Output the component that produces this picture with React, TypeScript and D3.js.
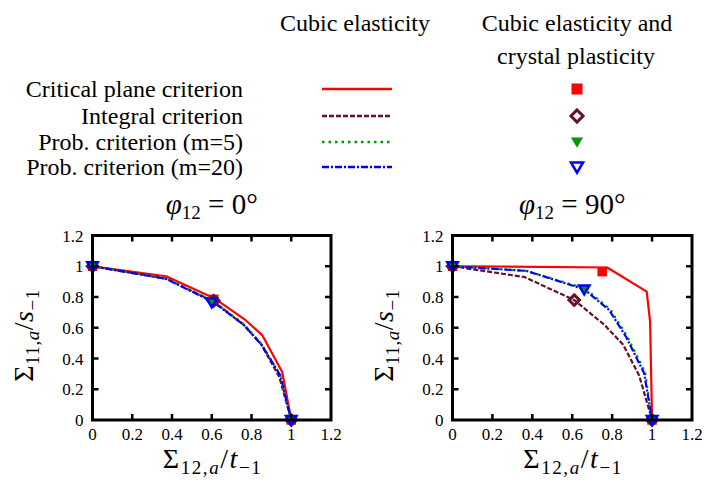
import React from "react";
import * as d3 from "d3";

// ---------- data ----------
const ticks = [0, 0.2, 0.4, 0.6, 0.8, 1, 1.2];
const tickLabels = ["0", "0.2", "0.4", "0.6", "0.8", "1", "1.2"];

const seriesNames = [
  "Critical plane criterion",
  "Integral criterion",
  "Prob. criterion (m=5)",
  "Prob. criterion (m=20)",
];
const headerLeft = ["Cubic elasticity"];
const headerRight = ["Cubic elasticity and", "crystal plasticity"];

// phi12 = 0 deg : cubic elasticity curves
const p0CritX = [0, 0.37, 0.615, 0.765, 0.855, 0.955, 1];
const p0CritY = [1, 0.935, 0.79, 0.655, 0.55, 0.31, 0];
const p0IntX = [0, 0.37, 0.61, 0.76, 0.85, 0.94, 1];
const p0IntY = [1, 0.92, 0.77, 0.62, 0.49, 0.28, 0];
const p0P5X = [0, 0.37, 0.61, 0.76, 0.85, 0.945, 1];
const p0P5Y = [1, 0.92, 0.77, 0.625, 0.495, 0.29, 0];
const p0P20X = [0, 0.37, 0.61, 0.76, 0.85, 0.945, 1];
const p0P20Y = [1, 0.918, 0.765, 0.62, 0.49, 0.29, 0];
// phi12 = 0 deg : crystal plasticity points
const p0MarkCritX = [0, 0.61, 1];
const p0MarkCritY = [1, 0.785, 0];
const p0MarkIntX = [0, 0.61, 1];
const p0MarkIntY = [1, 0.775, 0];
const p0MarkP5X = [0, 0.605, 1];
const p0MarkP5Y = [1, 0.77, 0];
const p0MarkP20X = [0, 0.6, 1];
const p0MarkP20Y = [1, 0.765, 0];

// phi12 = 90 deg : cubic elasticity curves
const p90CritX = [0, 0.775, 0.973, 0.99, 1];
const p90CritY = [1, 0.992, 0.835, 0.64, 0];
const p90IntX = [0, 0.36, 0.61, 0.76, 0.855, 0.935, 1];
const p90IntY = [1, 0.93, 0.78, 0.62, 0.49, 0.29, 0];
const p90P5X = [0, 0.37, 0.665, 0.79, 0.875, 0.965, 1];
const p90P5Y = [1, 0.97, 0.855, 0.72, 0.545, 0.31, 0];
const p90P20X = [0, 0.37, 0.66, 0.785, 0.87, 0.96, 1];
const p90P20Y = [1, 0.97, 0.85, 0.715, 0.54, 0.305, 0];
// phi12 = 90 deg : crystal plasticity points
const p90MarkCritX = [0, 0.75, 1];
const p90MarkCritY = [1, 0.965, 0];
const p90MarkIntX = [0, 0.61, 1];
const p90MarkIntY = [1, 0.78, 0];
const p90MarkP5X = [0, 0.66, 1];
const p90MarkP5Y = [1, 0.85, 0];
const p90MarkP20X = [0, 0.66, 1];
const p90MarkP20Y = [1, 0.85, 0];

// ---------- styles ----------
const colors = ["#ff0000", "#661030", "#009a00", "#0000ff"];
const dashes = ["none", "5,2", "2.5,4", "7,2,2,2"];
const FS = { fontFamily: "Liberation Serif" };

const zip = (xs: number[], ys: number[]) => xs.map((x, i) => [x, ys[i]] as [number, number]);

type Panel = {
  left: number;
  right: number;
  title: string;
  lines: [number, number][][];
  marks: [number, number][][];
};

const panels: Panel[] = [
  {
    left: 92.5,
    right: 331,
    title: "0°",
    lines: [zip(p0CritX, p0CritY), zip(p0IntX, p0IntY), zip(p0P5X, p0P5Y), zip(p0P20X, p0P20Y)],
    marks: [
      zip(p0MarkCritX, p0MarkCritY),
      zip(p0MarkIntX, p0MarkIntY),
      zip(p0MarkP5X, p0MarkP5Y),
      zip(p0MarkP20X, p0MarkP20Y),
    ],
  },
  {
    left: 452.5,
    right: 692,
    title: "90°",
    lines: [zip(p90CritX, p90CritY), zip(p90IntX, p90IntY), zip(p90P5X, p90P5Y), zip(p90P20X, p90P20Y)],
    marks: [
      zip(p90MarkCritX, p90MarkCritY),
      zip(p90MarkIntX, p90MarkIntY),
      zip(p90MarkP5X, p90MarkP5Y),
      zip(p90MarkP20X, p90MarkP20Y),
    ],
  },
];

const TOP = 235.5;
const BOTTOM = 420;

function Marker({ kind, x, y, s = 1 }: { kind: number; x: number; y: number; s?: number }) {
  if (kind === 0) {
    const h = 5 * s;
    return <rect x={x - h} y={y - h} width={2 * h} height={2 * h} fill={colors[0]} />;
  }
  if (kind === 1) {
    const h = 5.5 * s;
    return (
      <path
        d={`M${x},${y - h}L${x + h},${y}L${x},${y + h}L${x - h},${y}Z`}
        fill="none"
        stroke={colors[1]}
        strokeWidth={3}
      />
    );
  }
  if (kind === 2) {
    const w = 5.5 * s;
    return (
      <path
        d={`M${x - w},${y - w * 0.75}L${x + w},${y - w * 0.75}L${x},${y + w * 0.95}Z`}
        fill={colors[2]}
      />
    );
  }
  const w = 5.5 * s;
  return (
    <path
      d={`M${x - w},${y - w * 0.75}L${x + w},${y - w * 0.75}L${x},${y + w * 0.95}Z`}
      fill="none"
      stroke={colors[3]}
      strokeWidth={2.5}
      strokeLinejoin="miter"
    />
  );
}

function PlotPanel({ p }: { p: Panel }) {
  const x = d3.scaleLinear().domain([0, 1.2]).range([p.left, p.right]);
  const y = d3.scaleLinear().domain([0, 1.2]).range([BOTTOM, TOP]);
  const line = d3
    .line<[number, number]>()
    .x((d) => x(d[0]))
    .y((d) => y(d[1]));
  const cx = (p.left + p.right) / 2;
  const cy = (TOP + BOTTOM) / 2;
  return (
    <g>
      {/* title */}
      <text x={cx} y={214} textAnchor="middle" style={FS} fontSize={29}>
        <tspan fontStyle="italic">φ</tspan>
        <tspan fontSize={19} dy={5}>12</tspan>
        <tspan dy={-5}>{" = " + p.title}</tspan>
      </text>
      {/* curves */}
      <g>
        {p.lines.map((ln, i) => (
          <path
            key={i}
            d={line(ln) || ""}
            fill="none"
            stroke={colors[i]}
            strokeWidth={2.2}
            strokeDasharray={dashes[i]}
            strokeLinejoin="round"
          />
        ))}
      </g>
      {/* markers */}
      {p.marks.map((ms, i) =>
        ms.map((m, j) => <Marker key={`${i}-${j}`} kind={i} x={x(m[0])} y={y(m[1])} s={0.95} />)
      )}
      {/* frame */}
      <rect
        x={p.left}
        y={TOP}
        width={p.right - p.left}
        height={BOTTOM - TOP}
        fill="none"
        stroke="#000"
        strokeWidth={3}
      />
      {/* ticks */}
      {ticks.slice(1, -1).map((t) => (
        <g key={"t" + t} stroke="#000" strokeWidth={2.5}>
          <line x1={x(t)} x2={x(t)} y1={BOTTOM} y2={BOTTOM - 6} />
          <line x1={x(t)} x2={x(t)} y1={TOP} y2={TOP + 6} />
          <line x1={p.left} x2={p.left + 6} y1={y(t)} y2={y(t)} />
          <line x1={p.right} x2={p.right - 6} y1={y(t)} y2={y(t)} />
        </g>
      ))}
      {/* tick labels */}
      {ticks.map((t, i) => (
        <text key={"xl" + t} x={x(t)} y={440} textAnchor="middle" style={FS} fontSize={17}>
          {tickLabels[i]}
        </text>
      ))}
      {ticks.map((t, i) => (
        <text key={"yl" + t} x={p.left - 9} y={y(t) + 6} textAnchor="end" style={FS} fontSize={17}>
          {tickLabels[i]}
        </text>
      ))}
      {/* x label */}
      <text
        x={cx}
        y={468}
        textAnchor="middle"
        style={FS}
        fontSize={28}
        textLength={98}
        lengthAdjust="spacing"
      >
        <tspan>Σ</tspan>
        <tspan fontSize={19} dy={6}>12,</tspan>
        <tspan fontSize={19} fontStyle="italic">a</tspan>
        <tspan dy={-6}>/</tspan>
        <tspan fontStyle="italic">t</tspan>
        <tspan fontSize={19} dy={6}>−1</tspan>
      </text>
      {/* y label */}
      <text
        transform={`translate(${p.left - 60},${cy + 8}) rotate(-90)`}
        textAnchor="middle"
        style={FS}
        fontSize={28}
        textLength={92}
        lengthAdjust="spacing"
      >
        <tspan>Σ</tspan>
        <tspan fontSize={19} dy={6}>11,</tspan>
        <tspan fontSize={19} fontStyle="italic">a</tspan>
        <tspan dy={-6}>/</tspan>
        <tspan fontStyle="italic">s</tspan>
        <tspan fontSize={19} dy={6}>−1</tspan>
      </text>
    </g>
  );
}

export default function App() {
  const rowY = [89, 116, 142, 167];
  return (
    <svg
      width={704}
      height={485}
      style={{ position: "absolute", left: 0, top: 0, background: "#fff" }}
    >
      <rect width={704} height={485} fill="#fff" />
      {/* legend headers */}
      <text x={355} y={31} textAnchor="middle" style={FS} fontSize={24}>
        {headerLeft[0]}
      </text>
      <text x={577} y={31} textAnchor="middle" style={FS} fontSize={24}>
        {headerRight[0]}
      </text>
      <text x={576} y={64} textAnchor="middle" style={FS} fontSize={24}>
        {headerRight[1]}
      </text>
      {/* legend rows */}
      {seriesNames.map((n, i) => (
        <g key={n}>
          <text x={243} y={rowY[i] + 8} textAnchor="end" style={FS} fontSize={24}>
            {n}
          </text>
          <line
            x1={322}
            x2={392}
            y1={rowY[i]}
            y2={rowY[i]}
            stroke={colors[i]}
            strokeWidth={2.6}
            strokeDasharray={dashes[i]}
          />
          <Marker kind={i} x={577} y={rowY[i]} s={1.1} />
        </g>
      ))}
      {panels.map((p, i) => (
        <PlotPanel key={i} p={p} />
      ))}
    </svg>
  );
}
